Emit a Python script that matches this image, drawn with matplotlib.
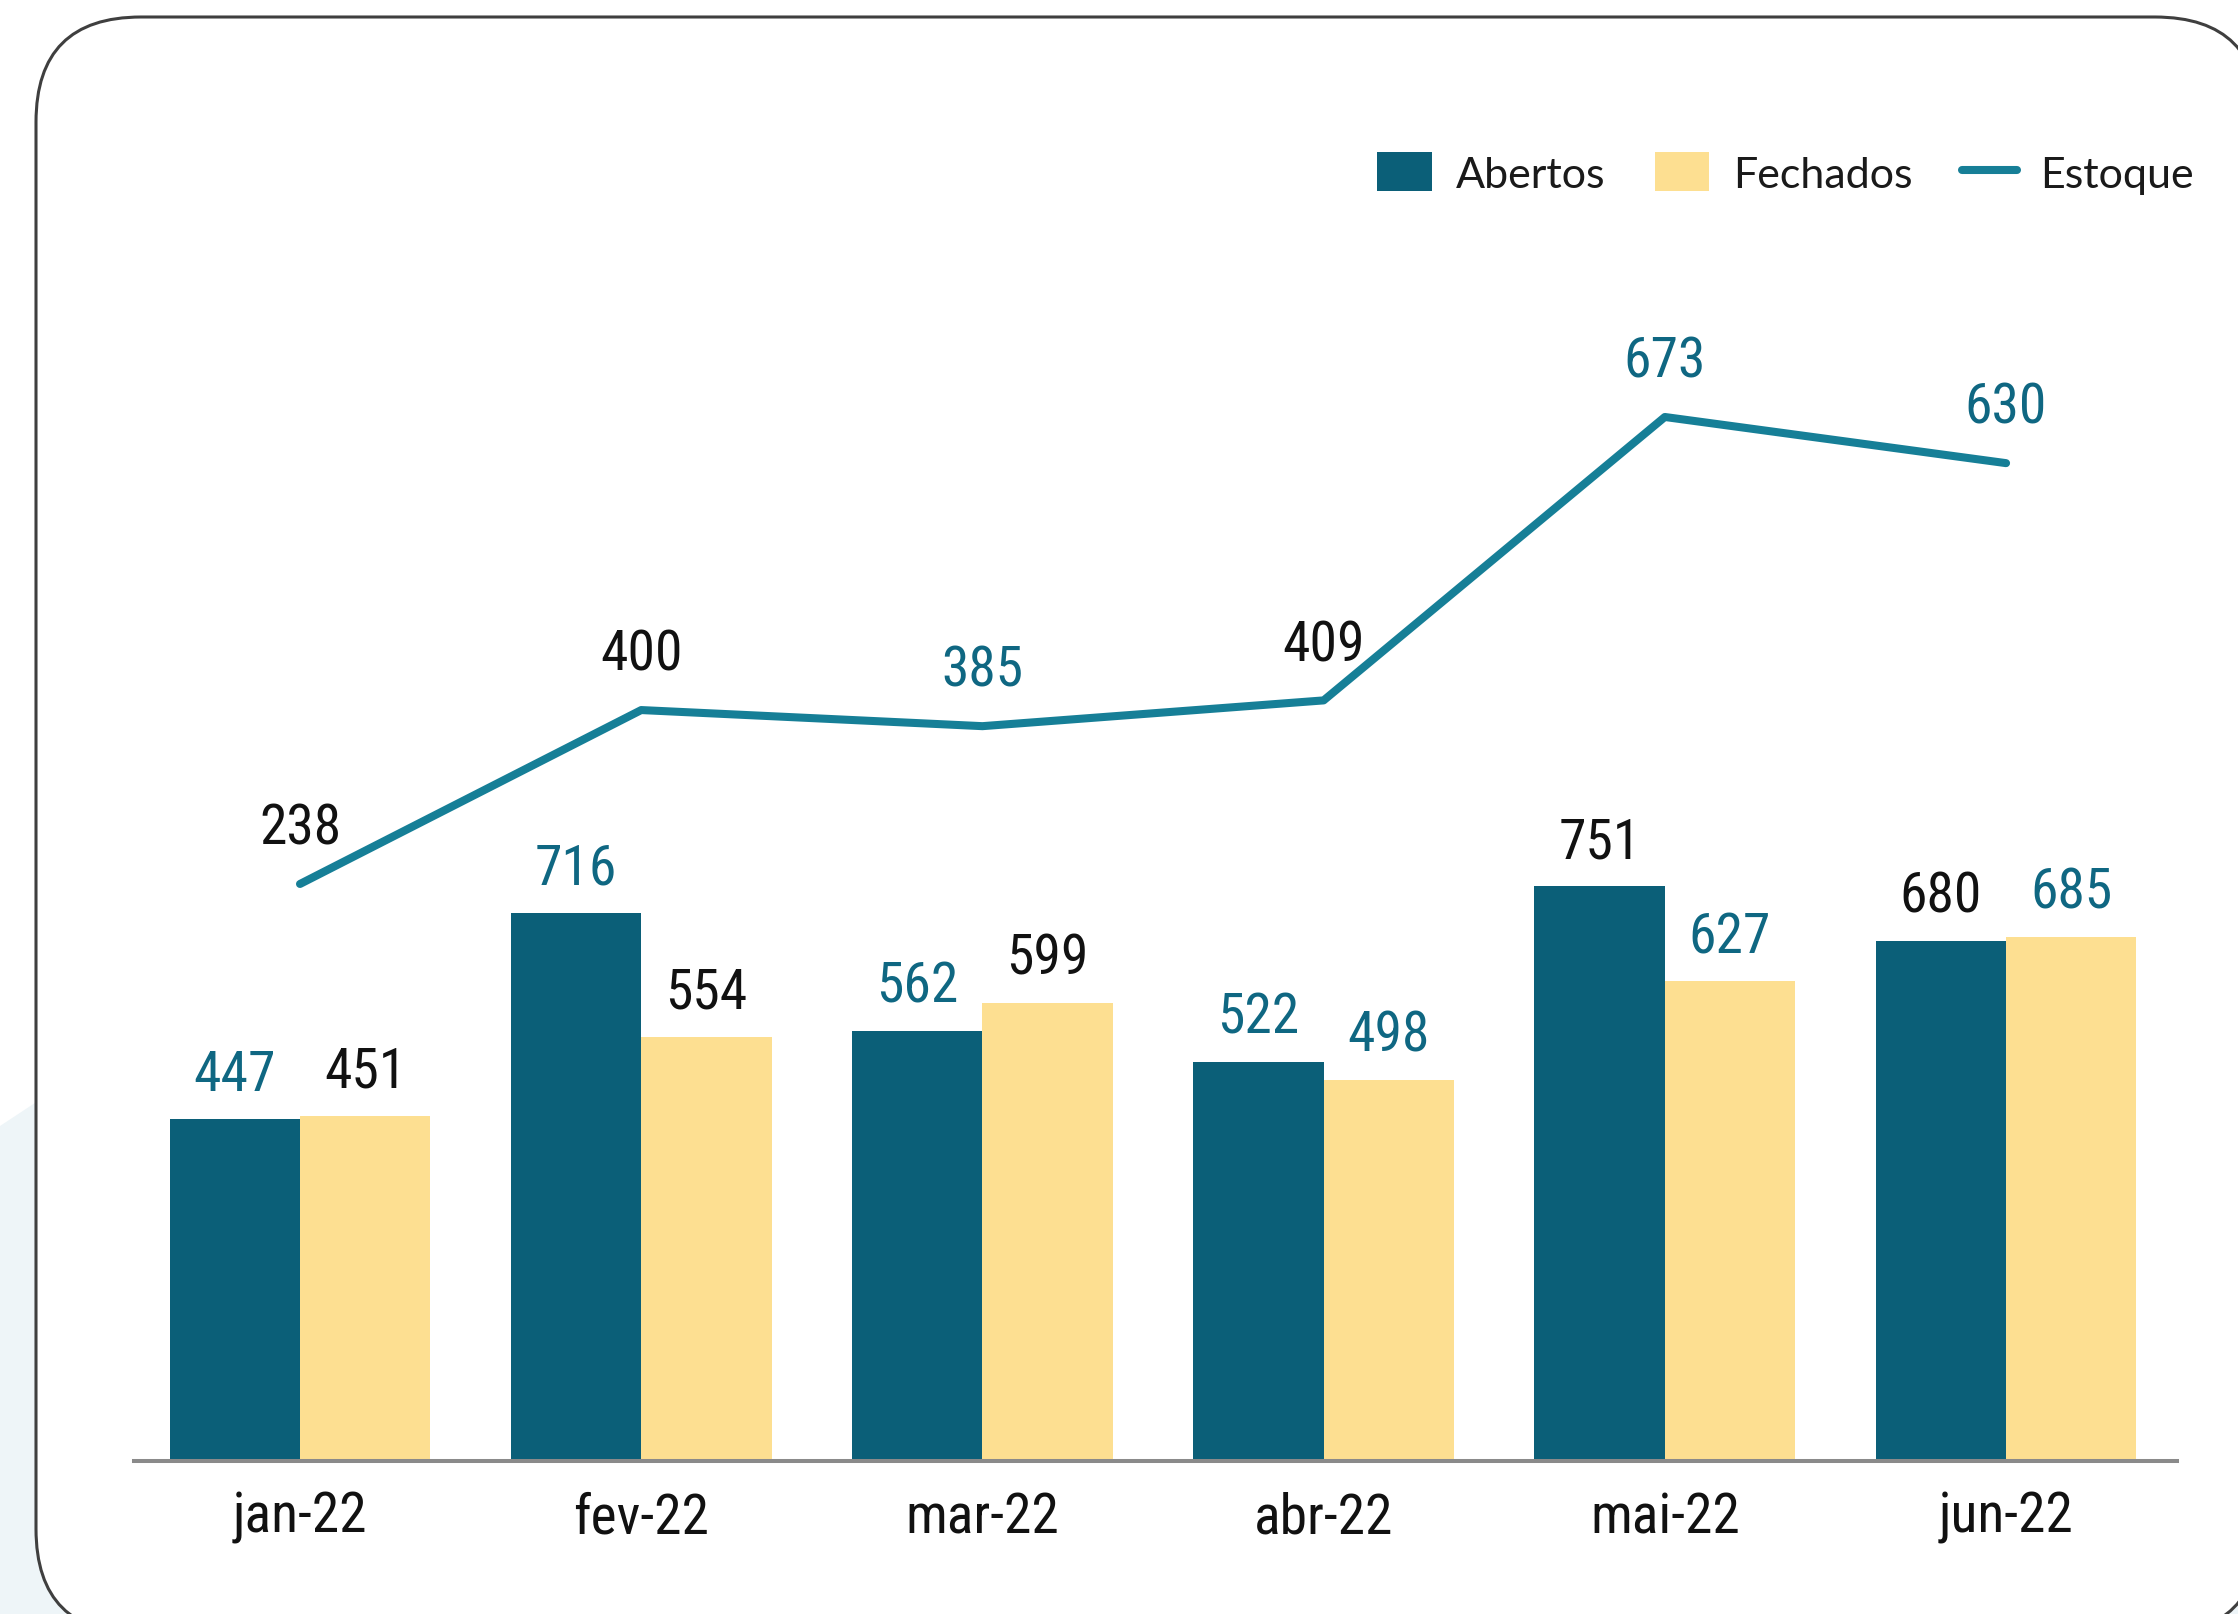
import matplotlib
matplotlib.use('Agg')
import matplotlib.pyplot as plt
from matplotlib import font_manager as fm
from matplotlib.patches import FancyBboxPatch, Polygon
import numpy as np

# ---- data ----
meses = ['jan-22', 'fev-22', 'mar-22', 'abr-22', 'mai-22', 'jun-22']
abertos = [447, 716, 562, 522, 751, 680]
fechados = [451, 554, 599, 498, 627, 685]
estoque = [238, 400, 385, 409, 673, 630]

# ---- styles ----
TEAL_DARK = '#0B5F78'
YELLOW = '#FDDF91'
LINE = '#167F97'
TXT_TEAL = '#0F6782'
TXT_BLACK = '#111111'
c_ab = [TXT_TEAL, TXT_TEAL, TXT_TEAL, TXT_TEAL, TXT_BLACK, TXT_BLACK]
c_fe = [TXT_BLACK, TXT_BLACK, TXT_BLACK, TXT_TEAL, TXT_TEAL, TXT_TEAL]
c_es = [TXT_BLACK, TXT_BLACK, TXT_TEAL, TXT_BLACK, TXT_TEAL, TXT_TEAL]

# pick a narrow font for numbers if available
entries = {(f.name, f.stretch) for f in fm.fontManager.ttflist}
names = {n for n, _ in entries}
if 'Roboto Condensed' in names:
    NUM_FAM, NUM_STRETCH = 'Roboto Condensed', 'normal'
elif 'Liberation Sans Narrow' in names:
    NUM_FAM, NUM_STRETCH = 'Liberation Sans Narrow', 'normal'
elif any(n == 'DejaVu Sans' and s in ('condensed', 'semi-condensed') for n, s in entries):
    NUM_FAM, NUM_STRETCH = 'DejaVu Sans', 'condensed'
elif 'Roboto' in names:
    NUM_FAM, NUM_STRETCH = 'Roboto', 'normal'
else:
    NUM_FAM, NUM_STRETCH = 'DejaVu Sans', 'normal'
LEG_FAM = 'Lato' if 'Lato' in names else 'DejaVu Sans'

plt.rcParams['font.family'] = [NUM_FAM, 'DejaVu Sans']
plt.rcParams['font.stretch'] = NUM_STRETCH

W, H = 2238, 1615
fig = plt.figure(figsize=(W / 100, H / 100), dpi=100)

# background + rounded card (pixel coordinates)
bg = fig.add_axes([0, 0, 1, 1], zorder=-10)
bg.set_xlim(0, W)
bg.set_ylim(H, 0)
bg.axis('off')
bg.add_patch(Polygon([(0, 1127), (420, 850), (W, 850), (W, H), (0, H)], closed=True,
                     facecolor='#EEF5F8', edgecolor='none'))
bg.add_patch(FancyBboxPatch((36, 18), 2224, 1617,
                            boxstyle='round,pad=0,rounding_size=105',
                            facecolor='white', edgecolor='#3f3f3f', linewidth=2.2))

# main axes
ax = fig.add_axes([134 / W, (H - 1462) / H, (2177 - 134) / W, (1462 - 100) / H])
ax.patch.set_alpha(0)
x = np.arange(len(meses))
bw = 0.382
ax.bar(x - bw / 2, abertos, bw, color=TEAL_DARK, label='Abertos', zorder=2, linewidth=0)
ax.bar(x + bw / 2, fechados, bw, color=YELLOW, label='Fechados', zorder=2, linewidth=0)
ax.set_xlim(-0.4865, 5.501)
ax.set_ylim(0, 1780)
for s in ['top', 'right', 'left']:
    ax.spines[s].set_visible(False)
ax.spines['bottom'].set_color('#8a8a8a')
ax.spines['bottom'].set_linewidth(2.9)
ax.spines['bottom'].set_zorder(3)
ax.set_yticks([])
ax.set_xticks(x, meses)
ax.tick_params(axis='x', length=0, pad=21, labelsize=40, labelcolor=TXT_BLACK)

for xi, v, c in zip(x - bw / 2, abertos, c_ab):
    ax.annotate(str(v), (xi, v), xytext=(0, 21), textcoords='offset points',
                ha='center', va='baseline', fontsize=40, color=c)
for xi, v, c in zip(x + bw / 2, fechados, c_fe):
    ax.annotate(str(v), (xi, v), xytext=(0, 21), textcoords='offset points',
                ha='center', va='baseline', fontsize=40, color=c)

# secondary axis for the line
ax2 = ax.twinx()
ax2.set_ylim(-299.5, 969.2)
ax2.plot(x, estoque, color=LINE, lw=5.8, solid_capstyle='round', label='Estoque', zorder=4)
for s in ax2.spines.values():
    s.set_visible(False)
ax2.set_yticks([])
for xi, v, c in zip(x, estoque, c_es):
    ax2.annotate(str(v), (xi, v), xytext=(0, 29), textcoords='offset points',
                 ha='center', va='baseline', fontsize=40, color=c)

h1, l1 = ax.get_legend_handles_labels()
h2, l2 = ax2.get_legend_handles_labels()
leg = fig.legend(h1 + h2, l1 + l2, loc='center right',
                 bbox_to_anchor=(2194 / W, 1 - 174 / H), ncol=3, frameon=False,
                 prop=dict(family=[LEG_FAM, 'DejaVu Sans'], weight='normal',
                           stretch='normal', size=31),
                 handlelength=1.27, handleheight=1.02, handletextpad=0.55,
                 columnspacing=1.15, borderpad=0, borderaxespad=0)
for t in leg.get_texts():
    t.set_color('#1a1a1a')

fig.savefig('out.png', dpi=100)
